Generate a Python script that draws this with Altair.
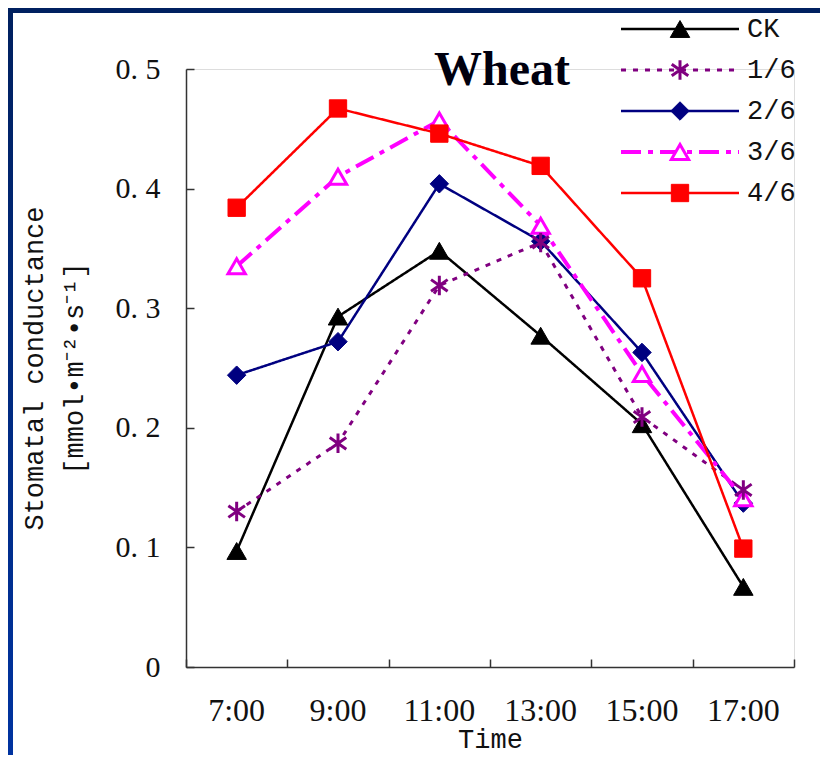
import altair as alt
import pandas as pd

times = ["7:00", "9:00", "11:00", "13:00", "15:00", "17:00"]
series = ["CK", "1/6", "2/6", "3/6", "4/6"]
ck = [0.097, 0.293, 0.348, 0.277, 0.203, 0.067]
s16 = [0.130, 0.187, 0.319, 0.355, 0.209, 0.148]
s26 = [0.244, 0.272, 0.404, 0.356, 0.263, 0.137]
s36 = [0.335, 0.410, 0.457, 0.369, 0.245, 0.141]
s46 = [0.384, 0.467, 0.446, 0.419, 0.325, 0.099]
y_ticks = [0, 0.1, 0.2, 0.3, 0.4, 0.5]

rows = []
for name, vals in zip(series, [ck, s16, s26, s36, s46]):
    for t, v in zip(times, vals):
        rows.append({"time": t, "series": name, "value": v})
df = pd.DataFrame(rows)
leg = pd.DataFrame({"series": series})

W, H = 608, 598
PL, PT, PR, PB = 178, 61, 26, 88

style = {
    "CK": dict(color="#000000", dash=[1, 0], lw=2.5, shape="triangle-up", fill="#000000", size=380, sw=1),
    "1/6": dict(color="#800080", dash=[5, 7], lw=3, shape="M0,-1L0,1M-0.85,-0.6L0.85,0.6M-0.85,0.6L0.85,-0.6",
                fill="transparent", size=380, sw=3),
    "2/6": dict(color="#000080", dash=[1, 0], lw=2.5, shape="diamond", fill="#000080", size=340, sw=1),
    "3/6": dict(color="#ff00ff", dash=[20, 7, 5, 7], lw=4, shape="triangle-up", fill="#ffffff", size=300, sw=3),
    "4/6": dict(color="#ff0000", dash=[1, 0], lw=2.5, shape="square", fill="#ff0000", size=300, sw=1),
}

xsc = alt.Scale(type="band", domain=times, paddingInner=0, paddingOuter=0)
ysc = alt.Scale(domain=[0, 0.5], nice=False, zero=True)
legsc = alt.Scale(type="point", domain=series, range=[-40, 124], padding=0)

AXC = "#333333"

x_label_axis = alt.Axis(orient="bottom", ticks=False, tickSize=0, grid=False, labelAngle=0,
                        labelFont="Liberation Serif", labelFontSize=32, labelColor="#111111",
                        labelPadding=28, domainColor=AXC, domainWidth=1.5,
                        title="Time", titleFont="Liberation Mono", titleFontSize=27,
                        titleFontWeight="normal", titleColor="#111111", titlePadding=0)
y_label_axis = alt.Axis(orient="left", ticks=False, tickSize=0, grid=False, values=y_ticks,
                        labelExpr="datum.value == 0 ? '0' : replace(format(datum.value, '.1f'), '.', '. ')",
                        labelFont="Liberation Serif", labelFontSize=30, labelColor="#111111",
                        labelPadding=26, domainColor=AXC, domainWidth=1.5,
                        title=["Stomatal conductance", "[mmol\u2022m\u207b\u00b2\u2022s\u207b\u00b9]"],
                        titleFont="Liberation Mono", titleFontSize=27, titleFontWeight="normal",
                        titleColor="#111111", titleLineHeight=40, titlePadding=27)
x_tick_axis = alt.Axis(orient="top", offset=-H, tickBand="extent", labels=False, domain=False,
                       ticks=True, tickSize=8, tickColor=AXC, tickWidth=1.5, title=None, grid=False)
y_tick_axis = alt.Axis(orient="right", offset=-W, values=y_ticks, labels=False, domain=False,
                       ticks=True, tickSize=8, tickColor=AXC, tickWidth=1.5, title=None, grid=False)

base = alt.Chart(df)
layers = []

one = alt.Data(values=[{"a": 1}])
grad = alt.LinearGradient(gradient="linear",
                          stops=[alt.GradientStop(color="#00205f", offset=0),
                                 alt.GradientStop(color="#0033a0", offset=1)],
                          x1=0, x2=0, y1=0, y2=1)
layers.append(alt.Chart(one).mark_rect(color="#002060").encode(
    x=alt.value(-PL), x2=alt.value(W + PR), y=alt.value(-PT), y2=alt.value(-PT + 5)))
layers.append(alt.Chart(one).mark_rect(color=grad).encode(
    x=alt.value(-PL), x2=alt.value(-PL + 5), y=alt.value(-PT), y2=alt.value(H + PB)))

# lines
for i, name in enumerate(series):
    st = style[name]
    layers.append(base.transform_filter(alt.datum.series == name).mark_line(
        color=st["color"], strokeDash=st["dash"], strokeWidth=st["lw"]).encode(
        x=alt.X("time:N", sort=times, scale=xsc, bandPosition=0.5,
                axis=x_label_axis if i == 0 else None),
        y=alt.Y("value:Q", scale=ysc, axis=y_label_axis if i == 0 else None)))

# markers
for name in ["CK", "2/6", "3/6", "1/6", "4/6"]:
    st = style[name]
    layers.append(base.transform_filter(alt.datum.series == name).mark_point(
        shape=st["shape"], fill=st["fill"], stroke=st["color"], strokeWidth=st["sw"],
        size=st["size"], opacity=1).encode(
        x=alt.X("time:N", sort=times, scale=xsc, bandPosition=0.5, axis=None),
        y=alt.Y("value:Q", scale=ysc, axis=None)))

# inward ticks
layers.append(base.mark_point(opacity=0).encode(
    x=alt.X("time:N", sort=times, scale=xsc, bandPosition=0.5, axis=x_tick_axis),
    y=alt.Y("value:Q", scale=ysc, axis=y_tick_axis)))

# title
layers.append(alt.Chart(alt.Data(values=[{"t": "Wheat"}])).mark_text(
    font="Liberation Serif", fontSize=48, fontWeight="bold", color="#00000f",
    align="center", baseline="alphabetic").encode(
    x=alt.value(316), y=alt.value(16), text="t:N"))

# legend
for name in series:
    st = style[name]
    ld = alt.Chart(leg).transform_filter(alt.datum.series == name)
    yenc = alt.Y("series:N", scale=legsc, axis=None)
    layers.append(ld.mark_rule(color=st["color"], strokeDash=st["dash"], strokeWidth=st["lw"]).encode(
        x=alt.value(435), x2=alt.value(553), y=yenc))
    layers.append(ld.mark_point(shape=st["shape"], fill=st["fill"], stroke=st["color"],
                                strokeWidth=st["sw"], size=st["size"], opacity=1).encode(
        x=alt.value(494), y=yenc))
    layers.append(ld.mark_text(font="Liberation Mono", fontSize=27, color="#111111",
                               align="left", baseline="middle").encode(
        x=alt.value(561), y=yenc, text="series:N"))

chart = alt.layer(*layers).resolve_scale(y="independent").resolve_axis(
    x="independent", y="independent").properties(
    width=W, height=H,
    autosize=alt.AutoSizeParams(type="none"),
    padding={"left": PL, "top": PT, "right": PR, "bottom": PB},
).configure_view(stroke=None).configure(background="white")

chart.save("out.html", embed_options={"renderer": "svg", "actions": False})
